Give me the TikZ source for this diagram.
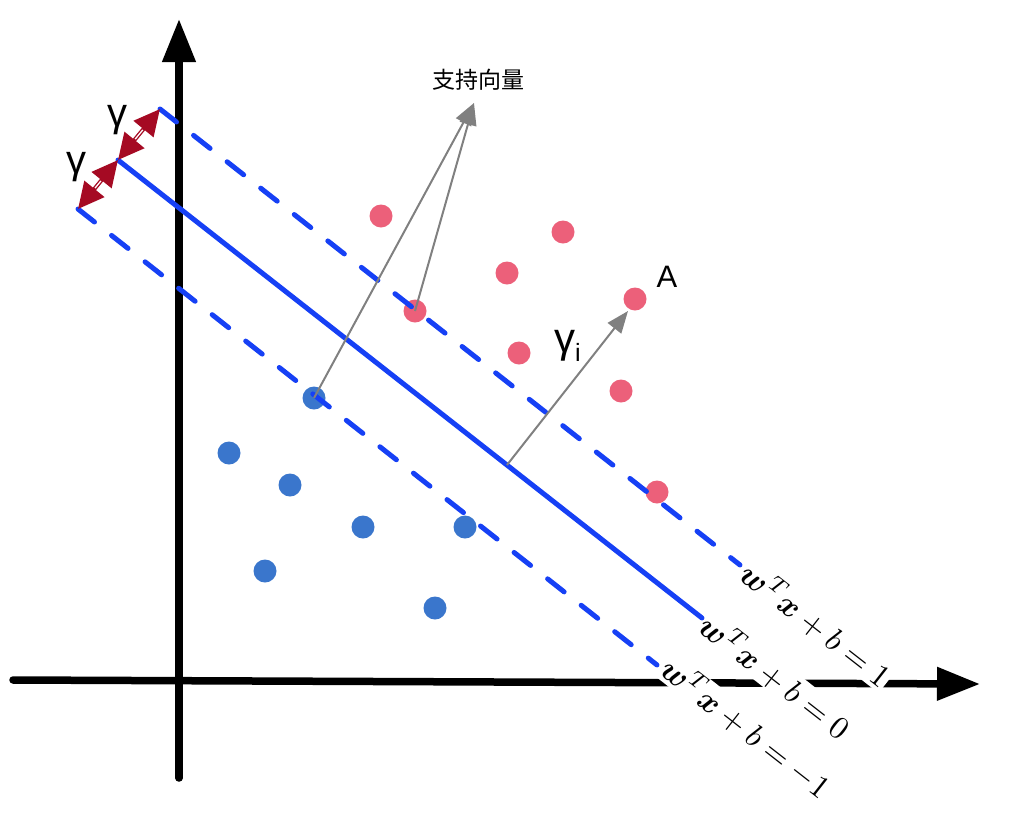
\documentclass[tikz,border=0pt]{standalone}
\usepackage{fontspec}
\usepackage{amsmath}
\usepackage{graphicx}
\newfontfamily\cjk{Noto Sans CJK SC}
\newfontfamily\lib{Liberation Sans}
\usetikzlibrary{arrows.meta,calc}
\definecolor{lineblue}{RGB}{22,64,245}
\definecolor{dotred}{RGB}{236,96,122}
\definecolor{dotblue}{RGB}{58,118,204}
\definecolor{arrred}{RGB}{165,10,35}
\definecolor{arrgray}{RGB}{128,128,128}
\tikzset{
  axisline/.style={line width=7.5pt, line cap=round, -{Triangle[length=43pt,width=32pt]}},
  reddot/.style={circle, fill=dotred, minimum size=23pt, inner sep=0pt},
  bluedot/.style={circle, fill=dotblue, minimum size=23pt, inner sep=0pt},
  solidblue/.style={lineblue, line width=5pt, line cap=round},
  dashseg/.style={lineblue, line width=5pt, line cap=round},
  grayarrow/.style={arrgray, line width=2pt, -{Triangle[length=22pt,width=17pt]}},
  redarrow/.style={arrred, line width=4pt, {Triangle[length=26pt,width=25pt]}-{Triangle[length=26pt,width=25pt]}},
  gammalabel/.style={inner sep=0pt, font=\lib\fontsize{40}{40}\selectfont},
  eqlabel/.style={anchor=base, rotate=-38, fill=white, inner sep=1pt}
}
\begin{document}
\begin{tikzpicture}[x=1pt,y=-1pt]
\useasboundingbox (0,0) rectangle (1018,812);
% axes
\coordinate (xs) at (13,680);
\coordinate (xe) at (980,684);
\coordinate (ys) at (179,778);
\coordinate (ye) at (179,19);
\draw[axisline] (xs) -- (xe);
\draw[axisline] (ys) -- (ye);
% dots
\node[reddot] (r1) at (381,216) {};
\node[reddot] (r2) at (563,232) {};
\node[reddot] (r3) at (507,273) {};
\node[reddot] (r4) at (415,311) {};
\node[reddot] (r5) at (635,299) {};
\node[reddot] (r6) at (519,353) {};
\node[reddot] (r7) at (621,391) {};
\node[reddot] (r8) at (657,492) {};
\node[bluedot] (b1) at (314,398) {};
\node[bluedot] (b2) at (229,453) {};
\node[bluedot] (b3) at (290,485) {};
\node[bluedot] (b4) at (363,527) {};
\node[bluedot] (b5) at (465,527) {};
\node[bluedot] (b6) at (265,571) {};
\node[bluedot] (b7) at (435,608) {};
% hyperplanes
\coordinate (u0) at (160,109);
\coordinate (u1) at (740,565);
\coordinate (m0) at (118,160);
\coordinate (m1) at (702,618);
\coordinate (l0) at (78,209);
\coordinate (l1) at (657,665);
\foreach \k in {0,...,17} {
  \draw[dashseg] ($(u0)!{\k*42.7*1pt}!(u1)$) -- ($(u0)!{min(\k*42.7+21,737.8)*1pt}!(u1)$);
  \draw[dashseg] ($(l0)!{\k*42.7*1pt}!(l1)$) -- ($(l0)!{min(\k*42.7+21,737)*1pt}!(l1)$);
}
\draw[solidblue] (m0) -- (m1);
% margin arrows
\draw[redarrow] (u0) -- (m0);
\draw[redarrow] (m0) -- (l0);
\draw[white, line width=1.3pt] ($(u0)!27pt!(m0)$) -- ($(m0)!27pt!(u0)$);
\draw[white, line width=1.3pt] ($(m0)!27pt!(l0)$) -- ($(l0)!27pt!(m0)$);
\node[gammalabel] (g1) at (117,120) {γ};
\node[gammalabel] (g2) at (76,167) {γ};
% support vector arrows
\node[inner sep=0pt, font=\cjk\fontsize{23}{23}\selectfont] (sv) at (478,80) {支持向量};
\coordinate (svt) at (474,103);
\draw[grayarrow] (b1.center) -- (svt);
\draw[grayarrow] (r4.center) -- (svt);
% gamma_i arrow
\coordinate (foot) at (507,465);
\coordinate (gt) at (628,311);
\draw[grayarrow] (foot) -- (gt);
\node[anchor=base west, inner sep=0pt, font=\lib] (gi) at (554,352) {\fontsize{42}{42}\selectfont γ\raisebox{-9pt}{\fontsize{25}{25}\selectfont i}};
\node[inner sep=0pt, font=\lib\fontsize{31}{31}\selectfont] (A) at (667,277) {A};
% equation labels
\node[eqlabel] (e1) at (809,634) {\scalebox{3.2}{$\boldsymbol{w}^T\boldsymbol{x}+b=1$}};
\node[eqlabel] (e0) at (768,686) {\scalebox{3.2}{$\boldsymbol{w}^T\boldsymbol{x}+b=0$}};
\node[eqlabel] (em) at (739,737) {\scalebox{3.2}{$\boldsymbol{w}^T\boldsymbol{x}+b=-1$}};
\end{tikzpicture}
\end{document}
